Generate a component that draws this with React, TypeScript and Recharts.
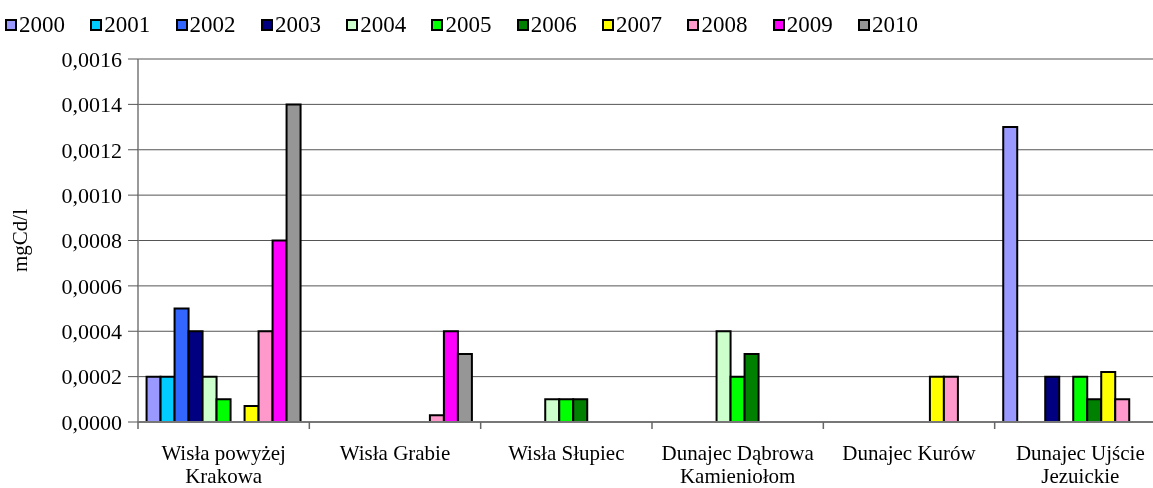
import { Bar, BarChart, CartesianGrid, XAxis, YAxis } from "recharts";

// measuring points along the Vistula / Dunajec
const stations = [
  "Wisła powyżej\nKrakowa",
  "Wisła Grabie",
  "Wisła Słupiec",
  "Dunajec Dąbrowa\nKamieniołom",
  "Dunajec Kurów",
  "Dunajec Ujście\nJezuickie",
];

// cadmium concentration per year, mgCd/l (null = no bar)
const y2000 = [0.0002, null, null, null, null, 0.0013];
const y2001 = [0.0002, null, null, null, null, null];
const y2002 = [0.0005, null, null, null, null, null];
const y2003 = [0.0004, null, null, null, null, 0.0002];
const y2004 = [0.0002, null, 0.0001, 0.0004, null, null];
const y2005 = [0.0001, null, 0.0001, 0.0002, null, 0.0002];
const y2006 = [null, null, 0.0001, 0.0003, null, 0.0001];
const y2007 = [0.00007, null, null, null, 0.0002, 0.00022];
const y2008 = [0.0004, 0.00003, null, null, 0.0002, 0.0001];
const y2009 = [0.0008, 0.0004, null, null, null, null];
const y2010 = [0.0014, 0.0003, null, null, null, null];

const years = ["2000", "2001", "2002", "2003", "2004", "2005", "2006", "2007", "2008", "2009", "2010"];
const yearValues = [y2000, y2001, y2002, y2003, y2004, y2005, y2006, y2007, y2008, y2009, y2010];
const colors = [
  "#9999FF", "#00CCFF", "#3366FF", "#000080", "#CCFFCC", "#00FF00",
  "#008000", "#FFFF00", "#FF99CC", "#FF00FF", "#969696",
];
const yTicks = [0, 0.0002, 0.0004, 0.0006, 0.0008, 0.001, 0.0012, 0.0014, 0.0016];

const data = stations.map((name, i) => {
  const row: Record<string, string | number | null> = { name };
  years.forEach((yr, k) => {
    row[yr] = yearValues[k][i];
  });
  return row;
});

const serif = "Liberation Serif";

const fmt = (v: number) => v.toFixed(4).replace(".", ",");

// station name under each group plus a tick on the group's left edge
const StationTick = (props: any) => {
  const { x, y, payload } = props;
  const half = payload.offset ?? 0;
  const lines = String(payload.value).split("\n");
  return (
    <g>
      <line x1={x - half} x2={x - half} y1={y} y2={y + 7} stroke="#666" strokeWidth={1.5} />
      <text x={x} y={y + 38} textAnchor="middle" fontSize={21} fontFamily={serif} fill="#000">
        {lines.map((l, i) => (
          <tspan key={i} x={x} dy={i === 0 ? 0 : 23}>
            {l}
          </tspan>
        ))}
      </text>
    </g>
  );
};

const App = () => {
  return (
    <div style={{ position: "fixed", left: 0, top: 0, width: 1153, height: 488, overflow: "hidden" }}>
      <div
        style={{
          position: "absolute",
          left: 5,
          top: 12,
          display: "flex",
          fontFamily: serif,
          fontSize: 23,
          lineHeight: "26px",
          color: "#000",
        }}
      >
        {years.map((yr, k) => (
          <div key={yr} style={{ display: "flex", alignItems: "center", width: 85.3 }}>
            <span
              style={{
                display: "inline-block",
                width: 8,
                height: 8,
                border: "2px solid #000",
                background: colors[k],
                marginRight: 2,
              }}
            />
            <span>{yr}</span>
          </div>
        ))}
      </div>
      <BarChart
        width={1170}
        height={488}
        data={data}
        margin={{ top: 59, right: 4, bottom: 0, left: 0 }}
        barCategoryGap="5%"
        barGap={0}
      >
        <CartesianGrid vertical={false} stroke="#555" strokeWidth={1} />
        <XAxis
          dataKey="name"
          interval={0}
          tickLine={false}
          tickSize={0}
          tickMargin={0}
          tick={<StationTick />}
          axisLine={{ stroke: "#777", strokeWidth: 2 }}
          height={66}
        />
        <YAxis
          width={138}
          domain={[0, 0.0016]}
          ticks={yTicks}
          tickFormatter={fmt}
          tickSize={10}
          tickMargin={6}
          tickLine={{ stroke: "#555" }}
          axisLine={{ stroke: "#777", strokeWidth: 1.5 }}
          tick={{ fontSize: 22, fontFamily: serif, fill: "#000" }}
          label={({ viewBox }: any) => {
            const cx = 20;
            const cy = viewBox.y + viewBox.height / 2;
            return (
              <text
                x={cx}
                y={cy}
                transform={`rotate(-90, ${cx}, ${cy})`}
                textAnchor="middle"
                dominantBaseline="central"
                fontSize={21}
                fontFamily={serif}
                fill="#000"
              >
                mgCd/l
              </text>
            );
          }}
        />
        {years.map((yr, k) => (
          <Bar
            key={yr}
            dataKey={yr}
            fill={colors[k]}
            stroke="#000"
            strokeWidth={2}
            isAnimationActive={false}
          />
        ))}
      </BarChart>
    </div>
  );
};

export default App;
